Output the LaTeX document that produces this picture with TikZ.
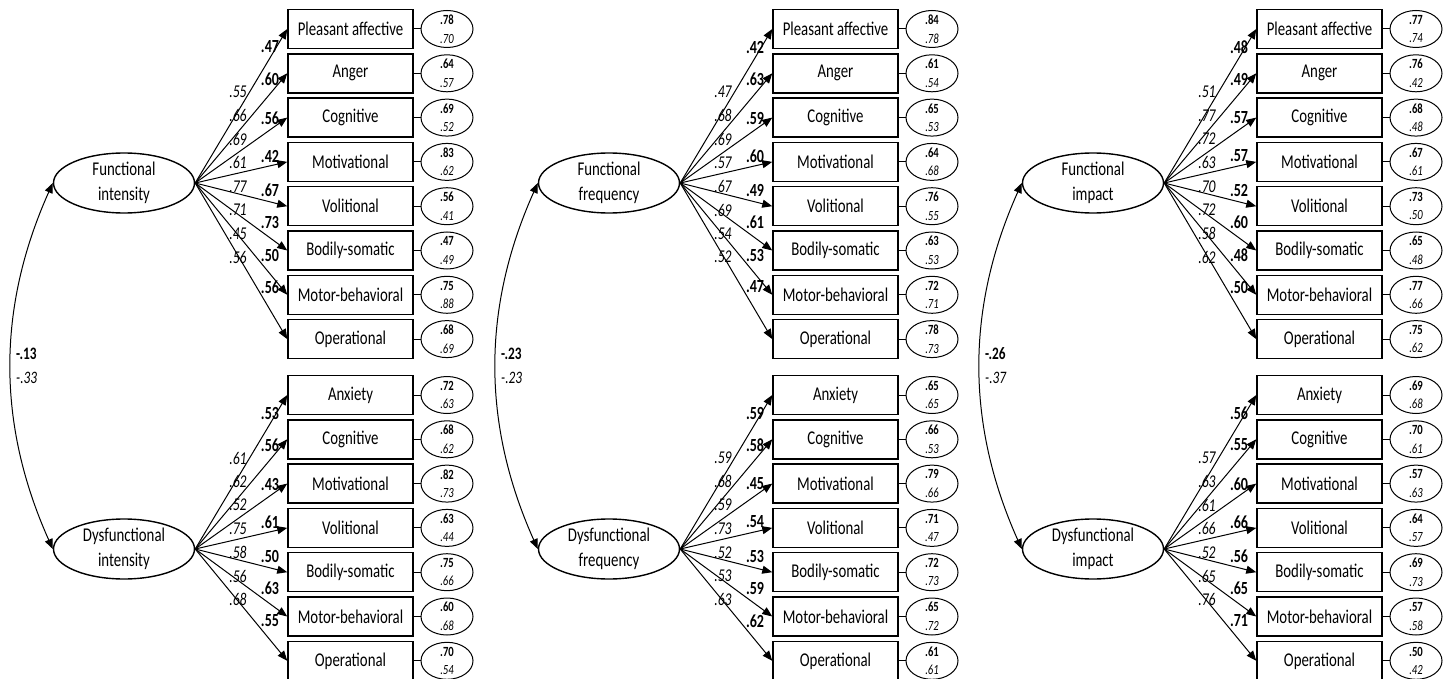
\documentclass[tikz,border=0pt]{standalone}
\usepackage{fontspec}
\setmainfont{Carlito}[FakeStretch=0.76]
\usetikzlibrary{arrows.meta,shapes.geometric}

\tikzset{
  latent/.style={draw, ellipse, line width=1.4pt, minimum width=141pt, minimum height=60pt,
    inner sep=0pt, align=center, font=\fontsize{19.5}{25}\selectfont},
  item/.style={draw, rectangle, line width=1.5pt, minimum width=125pt, minimum height=39pt,
    inner sep=0pt, font=\fontsize{19.5}{23}\selectfont},
  err/.style={draw, ellipse, line width=1pt, minimum width=52pt, minimum height=37pt, inner sep=0pt},
  errnum/.style={inner sep=0pt, align=center, font=\fontsize{14}{18.5}\selectfont},
  load/.style={line width=1pt, -{Triangle[length=10pt,width=8pt]}},
  cov/.style={line width=1pt, {Triangle[length=10pt,width=8pt]}-{Triangle[length=10pt,width=8pt]}},
  std/.style={inner sep=0pt, font=\fontsize{18.5}{20}\selectfont\bfseries},
  unstd/.style={inner sep=0pt, font=\fontsize{18}{20}\selectfont\itshape},
  covlab/.style={inner sep=0pt, anchor=west, align=left, font=\fontsize{17.5}{24}\selectfont},
}

% one factor with its indicators: name, x offset, y of the factor, factor text, rows
\newcommand\factor[5]{
  \node[latent] (#1) at (#2+124,#3) {#4};
  \foreach \txt/\va/\vb/\ea/\eb [count=\i] in {#5} {
    \pgfmathsetmacro\cy{#3-154+44.3*(\i-1)}
    \pgfmathsetmacro\iy{#3-91+23.6*(\i-1)}
    \pgfmathsetmacro\boff{{-136,-104,-65,-27,7,39,72,104}[\i-1]}
    \node[item] (#1-\i) at (#2+350.5,\cy) {\txt};
    \node[err] (#1-e\i) at (#2+447,\cy) {};
    \node[errnum] (#1-n\i) at (#1-e\i) {\textbf{\ea}\\\textit{\eb}};
    \draw[load] (#1.east) -- (#1-\i.west);
    \draw[line width=1pt] (#1-\i.east) -- (#1-e\i.west);
    \node[std] (#1-s\i) at (#2+270,#3+\boff) {\va};
    \node[unstd] (#1-u\i) at (#2+238,\iy) {\vb};
  }
}

\begin{document}
\begin{tikzpicture}[x=1pt,y=-1pt]
  \path[fill=white] (0,0) rectangle (1450,679);
  \useasboundingbox (0,0) rectangle (1450,679);

  % intensity
  \factor{fi}{0}{183}{Functional\\intensity}{
    Pleasant affective/.47/.55/.78/.70, Anger/.60/.66/.64/.57,
    Cognitive/.56/.69/.69/.52, Motivational/.42/.61/.83/.62,
    Volitional/.67/.77/.56/.41, Bodily-somatic/.73/.71/.47/.49,
    Motor-behavioral/.50/.45/.75/.88, Operational/.56/.56/.68/.69}
  \factor{di}{0}{549}{Dysfunctional\\intensity}{
    Anxiety/.53/.61/.72/.63, Cognitive/.56/.62/.68/.62,
    Motivational/.43/.52/.82/.73, Volitional/.61/.75/.63/.44,
    Bodily-somatic/.50/.58/.75/.66, Motor-behavioral/.63/.56/.60/.68,
    Operational/.55/.68/.70/.54}
  \draw[cov] (fi.west) .. controls +(-56,125) and +(-56,-125) .. (di.west);
  \node[covlab] (ic) at (16,366) {\textbf{-.13}\\\textit{-.33}};

  % frequency
  \factor{ff}{485}{183}{Functional\\frequency}{
    Pleasant affective/.42/.47/.84/.78, Anger/.63/.68/.61/.54,
    Cognitive/.59/.69/.65/.53, Motivational/.60/.57/.64/.68,
    Volitional/.49/.67/.76/.55, Bodily-somatic/.61/.69/.63/.53,
    Motor-behavioral/.53/.54/.72/.71, Operational/.47/.52/.78/.73}
  \factor{df}{485}{549}{Dysfunctional\\frequency}{
    Anxiety/.59/.59/.65/.65, Cognitive/.58/.68/.66/.53,
    Motivational/.45/.59/.79/.66, Volitional/.54/.73/.71/.47,
    Bodily-somatic/.53/.52/.72/.73, Motor-behavioral/.59/.53/.65/.72,
    Operational/.62/.63/.61/.61}
  \draw[cov] (ff.west) .. controls +(-56,125) and +(-56,-125) .. (df.west);
  \node[covlab] (fc) at (501,366) {\textbf{-.23}\\\textit{-.23}};

  % impact
  \factor{fm}{969}{183}{Functional\\impact}{
    Pleasant affective/.48/.51/.77/.74, Anger/.49/.77/.76/.42,
    Cognitive/.57/.72/.68/.48, Motivational/.57/.63/.67/.61,
    Volitional/.52/.70/.73/.50, Bodily-somatic/.60/.72/.65/.48,
    Motor-behavioral/.48/.58/.77/.66, Operational/.50/.62/.75/.62}
  \factor{dm}{969}{549}{Dysfunctional\\impact}{
    Anxiety/.56/.57/.69/.68, Cognitive/.55/.63/.70/.61,
    Motivational/.60/.61/.57/.63, Volitional/.66/.66/.64/.57,
    Bodily-somatic/.56/.52/.69/.73, Motor-behavioral/.65/.65/.57/.58,
    Operational/.71/.76/.50/.42}
  \draw[cov] (fm.west) .. controls +(-56,125) and +(-56,-125) .. (dm.west);
  \node[covlab] (mc) at (985,366) {\textbf{-.26}\\\textit{-.37}};
\end{tikzpicture}
\end{document}
